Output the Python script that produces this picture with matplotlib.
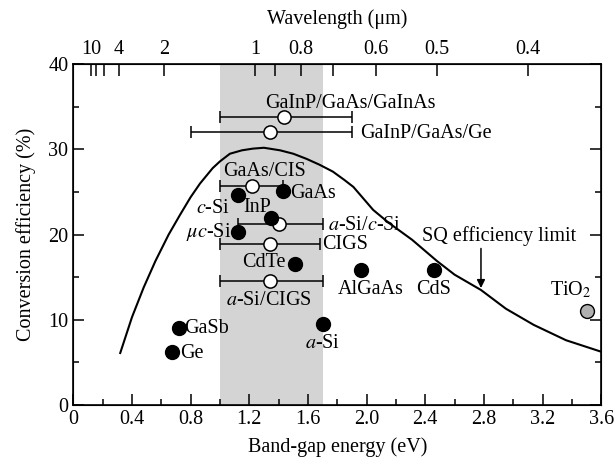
import numpy as np
import matplotlib
matplotlib.use('Agg')
from matplotlib import pyplot as plt

plt.rcParams['font.family'] = ['Liberation Serif', 'DejaVu Serif']
plt.rcParams['mathtext.fontset'] = 'stix'

# SQ efficiency limit curve
sq_e = [0.32, 0.40, 0.48, 0.56, 0.65, 0.727, 0.80, 0.864, 0.95, 1.0, 1.068, 1.15, 1.225, 1.30,
        1.41, 1.50, 1.59, 1.68, 1.77, 1.85, 1.91, 2.045, 2.15, 2.31, 2.48, 2.60, 2.78,
        2.95, 3.14, 3.36, 3.60]
sq_eff = [6.1, 10.3, 13.8, 16.9, 20.0, 22.3, 24.4, 26.0, 27.8, 28.6, 29.5, 29.9, 30.1, 30.2,
          29.9, 29.5, 28.9, 28.2, 27.4, 26.4, 25.6, 22.9, 21.4, 19.4, 16.9, 15.3, 13.5,
          11.3, 9.4, 7.6, 6.25]

# single-junction cells (filled)
single_names = ['Ge', 'GaSb', 'c-Si', 'μc-Si', 'InP', 'GaAs', 'CdTe', 'a-Si', 'AlGaAs', 'CdS']
single_e = [0.67, 0.72, 1.12, 1.12, 1.35, 1.43, 1.51, 1.70, 1.96, 2.46]
single_eff = [6.2, 9.0, 24.7, 20.3, 21.9, 25.1, 16.5, 9.5, 15.9, 15.8]

# multi-junction / tandem cells (open, with band-gap ranges)
multi_names = ['GaInP/GaAs/GaInAs', 'GaInP/GaAs/Ge', 'GaAs/CIS', 'a-Si/c-Si', 'CIGS', 'a-Si/CIGS']
multi_e = [1.44, 1.34, 1.22, 1.40, 1.34, 1.34]
multi_eff = [33.8, 32.0, 25.7, 21.2, 18.9, 14.6]
multi_lo = [1.0, 0.8, 1.0, 1.12, 1.0, 1.0]
multi_hi = [1.9, 1.9, 1.43, 1.7, 1.68, 1.7]

tio2_e, tio2_eff = 3.5, 11.0

wl_ticks = [10, 8, 6, 4, 2, 1, 0.9, 0.8, 0.7, 0.6, 0.5, 0.4]
wl_labels = ['10', '', '', '4', '2', '1', '', '0.8', '', '0.6', '0.5', '0.4']

fig = plt.figure(figsize=(6.16, 4.66), dpi=100)
ax = fig.add_axes([0.119, 0.131, 0.857, 0.731])

ax.axvspan(1.0, 1.7, color='#d4d4d4', lw=0, zorder=0)
ax.plot(sq_e, sq_eff, color='black', lw=1.5, zorder=2)

xerr = [np.array(multi_e) - np.array(multi_lo), np.array(multi_hi) - np.array(multi_e)]
ax.errorbar(multi_e, multi_eff, xerr=xerr, fmt='none', ecolor='black', elinewidth=1.1,
            capsize=4.5, capthick=1.1, zorder=3)
ax.plot(multi_e, multi_eff, 'o', ms=9.5, mfc='white', mec='black', mew=1.1, zorder=4)
ax.plot(single_e, single_eff, 'o', ms=10, mfc='black', mec='black', zorder=4)
ax.plot(tio2_e, tio2_eff, 'o', ms=10, mfc='#b0b0b0', mec='black', mew=1.0, zorder=4)

fs = 14.5
lab = dict(fontsize=fs, zorder=5)
ax.text(1.31, 35.4, 'GaInP/GaAs/GaInAs', ha='left', va='center', **lab)
ax.text(1.955, 31.9, 'GaInP/GaAs/Ge', ha='left', va='center', **lab)
ax.text(1.305, 27.4, 'GaAs/CIS', ha='center', va='center', **lab)
ax.text(1.48, 24.8, 'GaAs', ha='left', va='center', **lab)
ax.text(1.07, 23.1, '$\\it{c}$-Si', ha='right', va='center', **lab)
ax.text(1.256, 23.2, 'InP', ha='center', va='center', **lab)
ax.text(1.74, 21.1, '$\\it{a}$-Si/$\\it{c}$-Si', ha='left', va='center', **lab)
ax.text(1.075, 20.3, '$\\it{\\mu c}$-Si', ha='right', va='center', **lab)
ax.text(1.70, 18.8, 'CIGS', ha='left', va='center', **lab)
ax.text(1.45, 16.7, 'CdTe', ha='right', va='center', **lab)
ax.text(2.03, 13.5, 'AlGaAs', ha='center', va='center', **lab)
ax.text(1.335, 12.3, '$\\it{a}$-Si/CIGS', ha='center', va='center', **lab)
ax.text(0.755, 9.0, 'GaSb', ha='left', va='center', **lab)
ax.text(0.727, 6.06, 'Ge', ha='left', va='center', **lab)
ax.text(1.70, 7.2, '$\\it{a}$-Si', ha='center', va='center', **lab)
ax.text(2.46, 13.5, 'CdS', ha='center', va='center', **lab)
ax.text(3.39, 13.5, 'TiO$_2$', ha='center', va='center', **lab)
ax.text(2.90, 19.8, 'SQ efficiency limit', ha='center', va='center', **lab)
ax.annotate('', xy=(2.78, 13.4), xytext=(2.78, 18.7),
            arrowprops=dict(arrowstyle='-|>', color='black', lw=1.1, mutation_scale=12))

ax.set_xlim(0, 3.6)
ax.set_ylim(0, 40)
ax.set_xticks(np.arange(0, 3.61, 0.4))
ax.set_xticklabels(['0', '0.4', '0.8', '1.2', '1.6', '2.0', '2.4', '2.8', '3.2', '3.6'])
ax.set_xticks(np.arange(0.2, 3.6, 0.4), minor=True)
ax.set_yticks([0, 10, 20, 30, 40])
ax.set_yticks([5, 15, 25, 35], minor=True)
ax.tick_params(which='both', direction='in', labelsize=fs, width=1.1, right=True)
ax.tick_params(which='major', length=8)
ax.tick_params(which='minor', length=4)
ax.set_xlabel('Band-gap energy (eV)', fontsize=fs, labelpad=6)
ax.set_ylabel('Conversion efficiency (%)', fontsize=fs, labelpad=9)
for s in ax.spines.values():
    s.set_linewidth(1.2)

top = ax.twiny()
top.set_xlim(0, 3.6)
top.set_xticks([1.24 / w for w in wl_ticks])
top.set_xticklabels(wl_labels)
top.tick_params(direction='in', length=8.5, width=1.1, labelsize=fs)
top.set_xlabel('Wavelength (μm)', fontsize=fs, labelpad=12)

fig.savefig('out.png', dpi=100)
